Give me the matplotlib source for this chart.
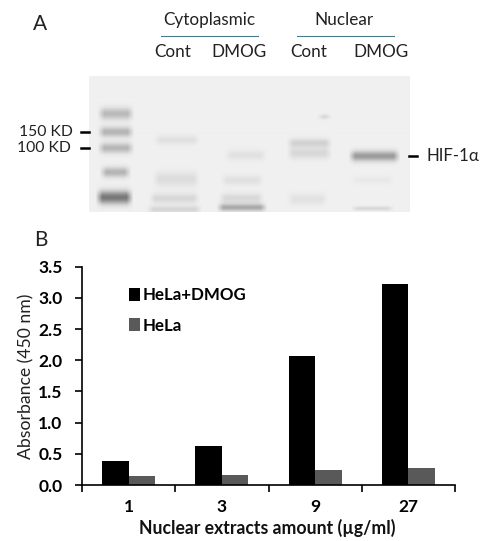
import numpy as np
import matplotlib
matplotlib.use('Agg')
import matplotlib.pyplot as plt

plt.rcParams['font.family'] = ['Lato', 'DejaVu Sans']

W, H = 493, 541

# bar chart values
amounts = ['1', '3', '9', '27']
hela_dmog = [0.39, 0.63, 2.07, 3.22]
hela = [0.14, 0.16, 0.24, 0.27]
y_ticks = [0.0, 0.5, 1.0, 1.5, 2.0, 2.5, 3.0, 3.5]

# blot bands, pixel positions in the picture
band_x0 = [97, 97, 97, 99, 95, 153, 152, 148, 146, 224, 220, 218, 216, 286, 286, 316, 348, 350, 286, 350]
band_x1 = [134, 134, 134, 131, 133, 200, 200, 200, 202, 267, 264, 264, 267, 332, 332, 332, 400, 394, 328, 394]
band_y = [114, 132, 148, 172, 197, 140, 179, 198, 209, 155, 180, 198, 207, 143, 153, 117, 156, 180, 199, 208]
band_dark = [55, 60, 58, 60, 120, 16, 20, 24, 26, 15, 16, 24, 70, 30, 24, 25, 85, 8, 14, 24]
band_sig = [4, 3.5, 3.5, 3.5, 4.5, 3, 5, 3.5, 2.5, 3.5, 3.5, 3.5, 2.5, 3, 4, 1.5, 3.5, 2.5, 4, 1.5]

fig = plt.figure(figsize=(W / 100, H / 100), dpi=100)

# blot
blot_x = (89, 410)
blot_y = (76, 212)
ax_blot = fig.add_axes([blot_x[0] / W, 1 - blot_y[1] / H,
                        (blot_x[1] - blot_x[0]) / W, (blot_y[1] - blot_y[0]) / H])
xx, yy = np.meshgrid(np.arange(blot_x[0], blot_x[1]), np.arange(blot_y[0], blot_y[1]))
img = np.full(xx.shape, 240.0)
for x0, x1, y, d, s in zip(band_x0, band_x1, band_y, band_dark, band_sig):
    edge = np.clip((xx - x0) / 7, 0, 1) * np.clip((x1 - xx) / 7, 0, 1)
    img -= d * edge * np.exp(-((yy - y) / s) ** 2 / 2)
ax_blot.imshow(img, cmap='gray', vmin=0, vmax=255, aspect='auto', interpolation='bilinear')
ax_blot.axis('off')

# bars
ax = fig.add_axes([82 / W, 1 - 485 / H, (455 - 82) / W, (485 - 266.7) / H])
pos = np.arange(len(amounts)) + 0.5
w = 0.285
ax.bar(pos - w / 2, hela_dmog, w, color='black', label='HeLa+DMOG')
ax.bar(pos + w / 2, hela, w, color='#595959', label='HeLa')
ax.set_xlim(0, len(amounts))
ax.set_ylim(0, 3.5)
ax.set_yticks(y_ticks)
ax.set_yticklabels(['%.1f' % v for v in y_ticks], fontsize=12.5, fontweight='bold')
ax.set_xticks(range(len(amounts) + 1))
ax.set_xticklabels([])
ax.set_xticks(pos, minor=True)
ax.set_xticklabels(amounts, minor=True, fontsize=12.5, fontweight='bold')
ax.tick_params(axis='x', which='minor', length=0, pad=10)
ax.tick_params(axis='both', which='major', length=5, width=1.2)
ax.tick_params(axis='y', which='major', pad=9)
ax.spines['top'].set_visible(False)
ax.spines['right'].set_visible(False)
ax.spines['left'].set_linewidth(1.2)
ax.spines['bottom'].set_linewidth(1.2)
ax.legend(loc='upper left', bbox_to_anchor=(0.125, 0.905), frameon=False,
          handlelength=0.65, handleheight=0.8, handletextpad=0.2, labelspacing=0.85,
          prop={'weight': 'bold', 'size': 12.2}, borderpad=0, borderaxespad=0)

# text and marks over the whole picture, in pixels
ov = fig.add_axes([0, 0, 1, 1], facecolor='none')
ov.set_xlim(0, W)
ov.set_ylim(H, 0)
ov.axis('off')

ov.text(40, 24, 'A', fontsize=15, ha='center', va='center', color='#222222')
ov.text(41, 240, 'B', fontsize=15, ha='center', va='center', color='#222222')
for x, y, s in [(209, 20, 'Cytoplasmic'), (344, 20, 'Nuclear'), (173, 52, 'Cont'),
                (239, 52, 'DMOG'), (309, 52, 'Cont'), (381, 52, 'DMOG')]:
    ov.text(x, y, s, fontsize=12.3, ha='center', va='center', color='#222222')
ov.plot([161, 258], [36, 36], color='#4a7a8c', lw=0.8)
ov.plot([297, 394], [36, 36], color='#4a7a8c', lw=0.8)
ov.text(73, 132, '150 KD', fontsize=11.3, ha='right', va='center', color='#222222')
ov.text(71, 148, '100 KD', fontsize=11.3, ha='right', va='center', color='#222222')
ov.text(427, 156, 'HIF-1α', fontsize=12.2, ha='left', va='center', color='#222222')
ov.plot([81, 89], [132, 132], color='black', lw=1.8)
ov.plot([81, 89], [148, 148], color='black', lw=1.8)
ov.plot([409, 417], [156, 156], color='black', lw=1.8)
ov.text(26, 376, 'Absorbance (450 nm)', fontsize=12.7, rotation=90, ha='center', va='center', color='#222222')
ov.text(267, 528, 'Nuclear extracts amount (µg/ml)', fontsize=12.7, fontweight='bold', ha='center', va='center', color='#111111')

fig.savefig('out.png', dpi=100)
